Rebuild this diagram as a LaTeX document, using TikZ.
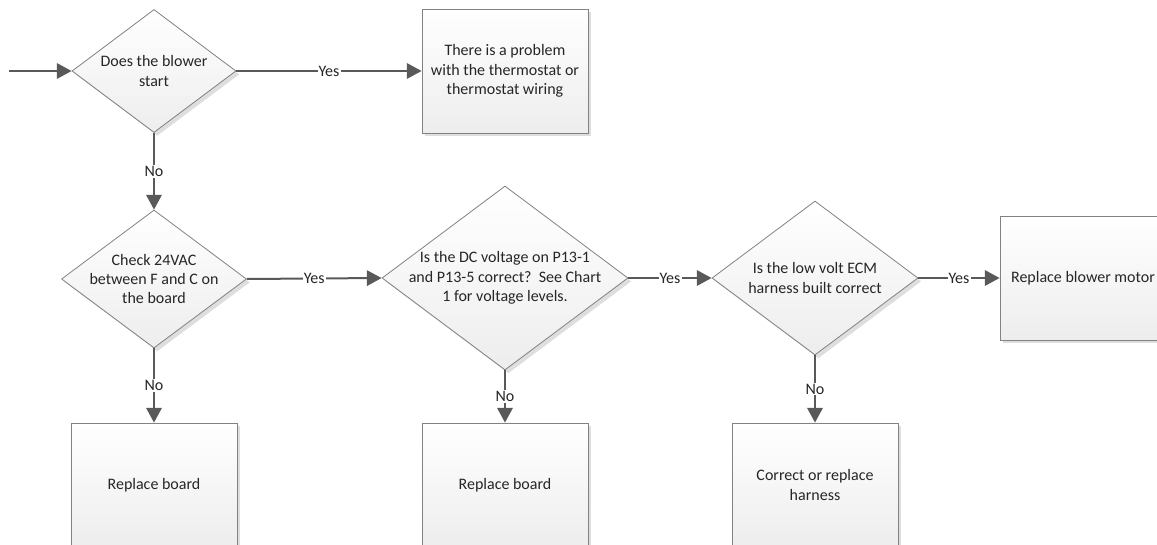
\documentclass[tikz,border=0pt]{standalone}
\usepackage{fontspec}
\setmainfont{Carlito}
\usetikzlibrary{arrows.meta}
\usetikzlibrary{shapes.geometric}
\usetikzlibrary{shadows}
\definecolor{lineclr}{RGB}{89,89,89}
\definecolor{edgeclr}{RGB}{130,130,130}
\definecolor{textclr}{RGB}{38,38,38}
\begin{document}
\begin{tikzpicture}[x=0.75pt, y=-0.75pt,
    every node/.style={font=\fontsize{12pt}{14.4pt}\selectfont, text=textclr},
    shape base/.style={draw=edgeclr, line width=0.6pt, top color=white, bottom color=black!7,
      general shadow={shadow xshift=2.5pt, shadow yshift=-2.5pt, fill=black!13}},
    decide/.style={shape base, diamond, aspect=1.34, inner sep=-8pt, align=center},
    act/.style={shape base, rectangle, minimum width=124.5pt, minimum height=93pt, align=center},
    flow/.style={draw=lineclr, line width=1.5pt, -{Triangle[length=11pt, width=11.5pt]}},
    lbl/.style={fill=white, inner sep=0.8pt}]
    \useasboundingbox (0,0) rectangle (1157,545);
    % decisions
    \node[decide, minimum width=123pt, minimum height=92.25pt] (blower) at (154,71)
      {Does the blower\\start};
    \node[decide, minimum width=138.75pt, minimum height=103.5pt] (check) at (154,279)
      {Check 24VAC\\between F and C on\\the board};
    \node[decide, minimum width=184.5pt, minimum height=138pt] (dcvolt) at (505,278)
      {Is the DC voltage on P13-1\\and P13-5 correct?\ \ See Chart\\1 for voltage levels.};
    \node[decide, minimum width=154.5pt, minimum height=115.5pt] (harness) at (815,278)
      {Is the low volt ECM\\harness built correct};
    % actions
    \node[act] (thermo) at (505,71) {There is a problem\\with the thermostat or\\thermostat wiring};
    \node[act] (motor) at (1083,278) {Replace blower motor};
    \node[act] (board1) at (154,485) {Replace board};
    \node[act] (board2) at (505,485) {Replace board};
    \node[act] (fixharness) at (815,485) {Correct or replace\\harness};
    \coordinate (start) at (9,71);
    \draw[flow] (start) -- (blower.west);
    \foreach \a/\b in {blower/thermo, check/dcvolt, dcvolt/harness, harness/motor}{
      \draw[flow] (\a.east) -- node[lbl] {Yes} (\b.west);
    }
    \foreach \a/\b in {blower/check, check/board1, dcvolt/board2, harness/fixharness}{
      \draw[flow] (\a.south) -- node[lbl] {No} (\b.north);
    }
\end{tikzpicture}
\end{document}
